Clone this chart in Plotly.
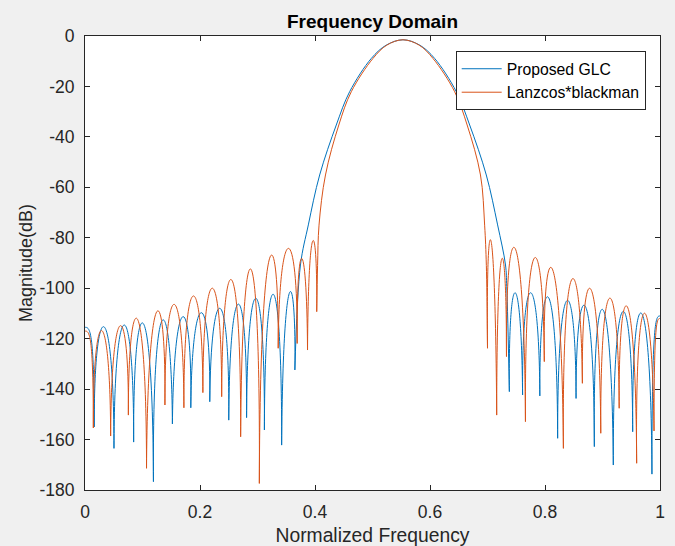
import plotly.graph_objects as go

# ---------------- data ----------------
# Sidelobe readings: left part starts with the edge value at x=0, then null, peak, null, ...
glc_left_x = [0.0, 0.016, 0.033, 0.0504, 0.068, 0.0846, 0.101, 0.119, 0.134, 0.152, 0.170, 0.184,
              0.202, 0.217, 0.235, 0.250, 0.2667, 0.281, 0.2974, 0.312, 0.3275, 0.342, 0.3553, 0.365]
glc_left_db = [-115.5, -155.0, -115.3, -163.5, -114.6, -161.0, -113.9, -176.7, -112.9, -153.8, -111.3, -147.4,
               -109.7, -145.0, -108.0, -152.3, -106.3, -151.3, -104.0, -156.2, -102.4, -162.2, -102.0, -132.4]
# main lobe, from the left null to the right null
glc_main_x = [0.365, 0.3747, 0.3884, 0.4081, 0.437, 0.4602, 0.4979, 0.524, 0.553,
              0.582, 0.6081, 0.6458, 0.669, 0.6979, 0.7176, 0.7313, 0.7335, 0.738]
glc_main_db = [-132.4, -90.8, -74.9, -55.1, -35.3, -22.1, -8.9, -3.6, -1.5,
               -3.6, -8.9, -22.1, -35.3, -55.1, -74.9, -90.8, -99.4, -141.0]
# right part: null, peak, null, ..., null, edge value at x=1
glc_right_x = [0.738, 0.748, 0.761, 0.775, 0.791, 0.8058, 0.822, 0.8377, 0.854, 0.8696, 0.8858,
               0.900, 0.9188, 0.935, 0.9525, 0.968, 0.986, 1.0]
glc_right_db = [-141.0, -101.8, -142.3, -101.8, -142.7, -103.6, -159.5, -105.0, -143.7, -107.0, -162.8,
                -108.4, -170.1, -109.3, -156.9, -110.0, -173.7, -111.0]

lb_left_x = [0.0, 0.0145, 0.029, 0.0446, 0.061, 0.0754, 0.091, 0.107, 0.1246, 0.139, 0.155, 0.172, 0.188,
             0.205, 0.2215, 0.2377, 0.255, 0.2707, 0.2887, 0.3032, 0.3206, 0.336, 0.3536, 0.369, 0.377,
             0.387, 0.396, 0.403]
lb_left_db = [-117.0, -155.4, -116.8, -158.6, -114.9, -150.3, -112.2, -171.4, -109.4, -146.3, -106.4, -147.4,
              -103.1, -141.4, -100.0, -143.0, -96.7, -158.9, -92.5, -177.4, -88.5, -123.8, -84.2, -121.9,
              -88.2, -124.5, -81.3, -109.3]
lb_main_x = [0.403, 0.4045, 0.407, 0.4182, 0.4414, 0.4631, 0.5008, 0.525, 0.553,
             0.581, 0.6052, 0.6429, 0.6646, 0.6878, 0.695, 0.698, 0.700]
lb_main_db = [-109.3, -91.0, -75.0, -55.1, -35.3, -22.1, -8.9, -3.6, -1.5,
              -3.6, -8.9, -22.1, -35.3, -55.1, -75.0, -91.0, -123.8]
lb_right_x = [0.700, 0.706, 0.716, 0.7246, 0.733, 0.748, 0.766, 0.781, 0.7988, 0.813, 0.832, 0.8464,
              0.865, 0.8794, 0.897, 0.912, 0.929, 0.943, 0.9594, 0.972, 0.9896, 1.0]
lb_right_db = [-123.8, -81.2, -150.3, -88.5, -127.1, -84.2, -152.9, -88.2, -129.1, -92.5, -163.5, -96.6,
               -137.7, -100.3, -157.5, -104.0, -147.6, -107.3, -169.4, -110.0, -156.6, -112.0]

x_tick_vals = [0, 0.2, 0.4, 0.6, 0.8, 1]
x_tick_text = ["0", "0.2", "0.4", "0.6", "0.8", "1"]
y_tick_vals = [-180, -160, -140, -120, -100, -80, -60, -40, -20, 0]
y_tick_text = ["-180", "-160", "-140", "-120", "-100", "-80", "-60", "-40", "-20", "0"]

names = ["Proposed GLC", "Lanzcos*blackman"]
colors = ["#0072BD", "#D95319"]

FONT = "Liberation Sans, Arial, Helvetica, sans-serif"


def lobe_path(xs, ys, start_edge, end_edge):
    """SVG path (data coordinates) of sidelobe arches between successive nulls."""
    n = len(xs)
    if start_edge:
        x0, y0, nx, ny = xs[0], ys[0], xs[1], ys[1]
        parts = [f"M{x0},{y0}", f"C{x0 + 0.5 * (nx - x0)},{y0} {nx},{y0} {nx},{ny}"]
        i = 1
    else:
        parts = [f"M{xs[0]},{ys[0]}"]
        i = 0
    last_null = n - 2 if end_edge else n - 1
    while i + 2 <= last_null:
        ax, ay = xs[i], ys[i]
        px, py = xs[i + 1], ys[i + 1]
        bx, by = xs[i + 2], ys[i + 2]
        h = (py - 0.125 * (ay + by)) / 0.75
        d = (px - 0.5 * (ax + bx)) / 0.75
        parts.append(f"C{ax + d},{h} {bx + d},{h} {bx},{by}")
        i += 2
    if end_edge:
        nx, ny, xe, ye = xs[n - 2], ys[n - 2], xs[n - 1], ys[n - 1]
        parts.append(f"C{nx},{ye} {nx + 0.5 * (xe - nx)},{ye} {xe},{ye}")
    return " ".join(parts)


fig = go.Figure()
series = [
    (glc_left_x, glc_left_db, glc_main_x, glc_main_db, glc_right_x, glc_right_db),
    (lb_left_x, lb_left_db, lb_main_x, lb_main_db, lb_right_x, lb_right_db),
]
shapes = []
for k, (lx, ly, mx, my, rx, ry) in enumerate(series):
    fig.add_trace(go.Scatter(x=mx, y=my, mode="lines", name=names[k],
                             line=dict(color=colors[k], width=1, shape="spline", smoothing=1.0)))
    for path in (lobe_path(lx, ly, True, False), lobe_path(rx, ry, False, True)):
        shapes.append(dict(type="path", xref="x", yref="y", path=path, layer="above",
                           line=dict(color=colors[k], width=1), fillcolor="rgba(0,0,0,0)"))

axis_common = dict(showline=True, linecolor="#262626", linewidth=1, mirror="ticks",
                   ticks="inside", ticklen=5, tickcolor="#262626", tickwidth=1,
                   showgrid=False, zeroline=False, automargin=False,
                   tickfont=dict(family=FONT, size=17.5, color="#262626"))

fig.update_layout(
    width=675, height=546,
    paper_bgcolor="#f0f0f0", plot_bgcolor="#ffffff",
    margin=dict(l=85, r=15, t=36, b=56),
    shapes=shapes,
    title=dict(text="<b>Frequency Domain</b>", x=(85 + 660) / 2 / 675, xanchor="center",
               y=1 - 21 / 546, yanchor="middle", yref="container",
               font=dict(family=FONT, size=19, color="#000000")),
    xaxis=dict(range=[0, 1], tickvals=x_tick_vals, ticktext=x_tick_text, ticklabelstandoff=6,
               title=dict(text="Normalized Frequency", standoff=11,
                          font=dict(family=FONT, size=19.3, color="#262626")),
               **axis_common),
    yaxis=dict(range=[-180, 0], tickvals=y_tick_vals, ticktext=y_tick_text, ticklabelstandoff=6,
               title=dict(text="Magnitude(dB)", standoff=2,
                          font=dict(family=FONT, size=18, color="#262626")),
               **axis_common),
    legend=dict(x=(455.7 - 85) / 575, y=(490 - 51) / 454, xanchor="left", yanchor="top",
                bgcolor="#ffffff", bordercolor="#262626", borderwidth=1,
                font=dict(family=FONT, size=15.75, color="#000000"),
                tracegroupgap=0, itemwidth=40),
    showlegend=True,
)

fig.write_html("out.html", config={"displayModeBar": False},
               post_script="document.body.style.margin='0';document.body.style.padding='0';")
